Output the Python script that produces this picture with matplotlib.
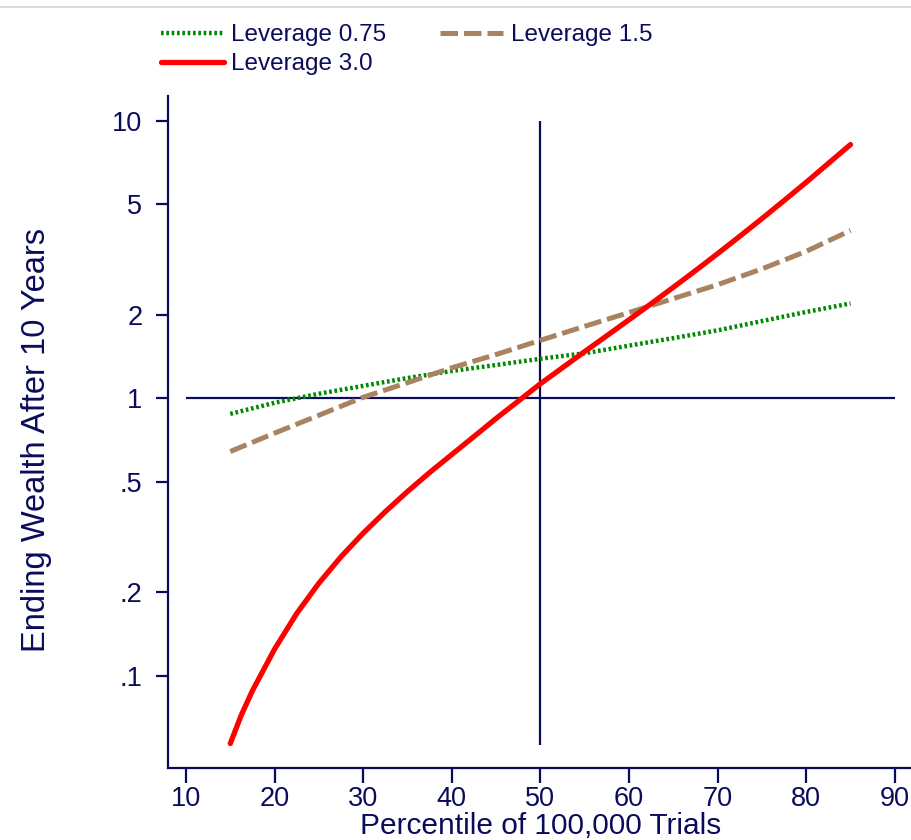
import matplotlib
matplotlib.use("Agg")
import matplotlib.pyplot as plt
from matplotlib.lines import Line2D
from matplotlib.ticker import NullLocator

plt.rcParams['font.family'] = ['Liberation Sans', 'DejaVu Sans']

# percentile of trials (x) and ending wealth (y)
pct = [15, 20, 25, 30, 35, 40, 45, 50, 55, 60, 65, 70, 75, 80, 85]
lev_075 = [0.88, 0.965, 1.04, 1.11, 1.185, 1.256, 1.32, 1.39, 1.455, 1.55,
           1.65, 1.76, 1.90, 2.05, 2.2]
lev_15 = [0.644, 0.75, 0.87, 1.01, 1.14, 1.29, 1.44, 1.62, 1.82, 2.04,
          2.29, 2.57, 2.93, 3.39, 4.03]
pct_30 = [15, 16.25, 17.5, 20, 22.5, 25, 27.5, 30, 32.5, 35, 37.5, 40, 42.5,
          45, 47.5, 50, 52.5, 55, 57.5, 60, 62.5, 65, 67.5, 70, 72.5, 75,
          77.5, 80, 82.5, 85]
lev_30 = [0.0571, 0.0724, 0.0885, 0.125, 0.168, 0.216, 0.269, 0.327, 0.391,
          0.462, 0.541, 0.628, 0.729, 0.847, 0.978, 1.13, 1.291, 1.476, 1.683,
          1.921, 2.195, 2.515, 2.887, 3.325, 3.84, 4.446, 5.164, 6.012, 7.031,
          8.222]

labels = ["Leverage 0.75", "Leverage 1.5", "Leverage 3.0"]
yticks = [0.1, 0.2, 0.5, 1, 2, 5, 10]
ytick_labels = [".1", ".2", ".5", "1", "2", "5", "10"]
xticks = [10, 20, 30, 40, 50, 60, 70, 80, 90]

navy = '#0b0b5c'
green = '#008a00'
brown = '#a9835f'
red = '#ff0000'

fig = plt.figure(figsize=(9.12, 8.4), dpi=100)
ax = fig.add_axes([168 / 912, 72 / 840, 744 / 912, 672 / 840])
ax.set_yscale('log')
ax.set_xlim(7.97, 91.94)
ax.set_ylim(0.0466, 12.3)

# reference lines
ax.hlines(1, 10, 90, color=navy, lw=1.6, zorder=1)
ax.vlines(50, 0.0564, 10, color=navy, lw=1.6, zorder=1)

l_g, = ax.plot(pct, lev_075, color=green, lw=3.2, linestyle=(0, (0.6, 0.6)),
               label=labels[0], zorder=3)
l_b, = ax.plot(pct, lev_15, color=brown, lw=3.6, linestyle=(0, (3.5, 1.2)),
               label=labels[1], zorder=3)
l_r, = ax.plot(pct_30, lev_30, color=red, lw=3.8, label=labels[2], zorder=4,
               solid_capstyle='round', solid_joinstyle='round')

ax.set_yticks(yticks)
ax.set_yticklabels(ytick_labels)
ax.yaxis.set_minor_locator(NullLocator())
ax.set_xticks(xticks)

for s in ['top', 'right']:
    ax.spines[s].set_visible(False)
for s in ['left', 'bottom']:
    ax.spines[s].set_color(navy)
    ax.spines[s].set_linewidth(1.6)

ax.tick_params(axis='y', direction='out', length=8.5, width=1.6, color=navy,
               labelcolor=navy, labelsize=19.5, pad=10)
ax.tick_params(axis='x', direction='out', length=11, width=1.6, color=navy,
               labelcolor=navy, labelsize=19.5, pad=2)

ax.set_xlabel("Percentile of 100,000 Trials", fontsize=21.5, color=navy)
ax.set_ylabel("Ending Wealth After 10 Years", fontsize=23.5, color=navy)
ax.xaxis.set_label_coords(0.501, -0.066)
ax.yaxis.set_label_coords(-0.156, 0.488)

leg = fig.legend(handles=[l_g, l_r, l_b], labels=[labels[0], labels[2], labels[1]],
                 loc='upper left', bbox_to_anchor=(161 / 912, 1 - 24 / 840),
                 ncol=2, frameon=False, fontsize=17.5, handlelength=2.6,
                 handletextpad=0.3, columnspacing=2.2, labelspacing=0.3,
                 borderpad=0, borderaxespad=0)
for t in leg.get_texts():
    t.set_color(navy)

# thin grey border at the top of the graph region
fig.add_artist(Line2D([0, 1], [1 - 7 / 840, 1 - 7 / 840], color='#d6d6ce', lw=1.2,
                      transform=fig.transFigure))

fig.savefig("out.png", dpi=100, facecolor='white')
